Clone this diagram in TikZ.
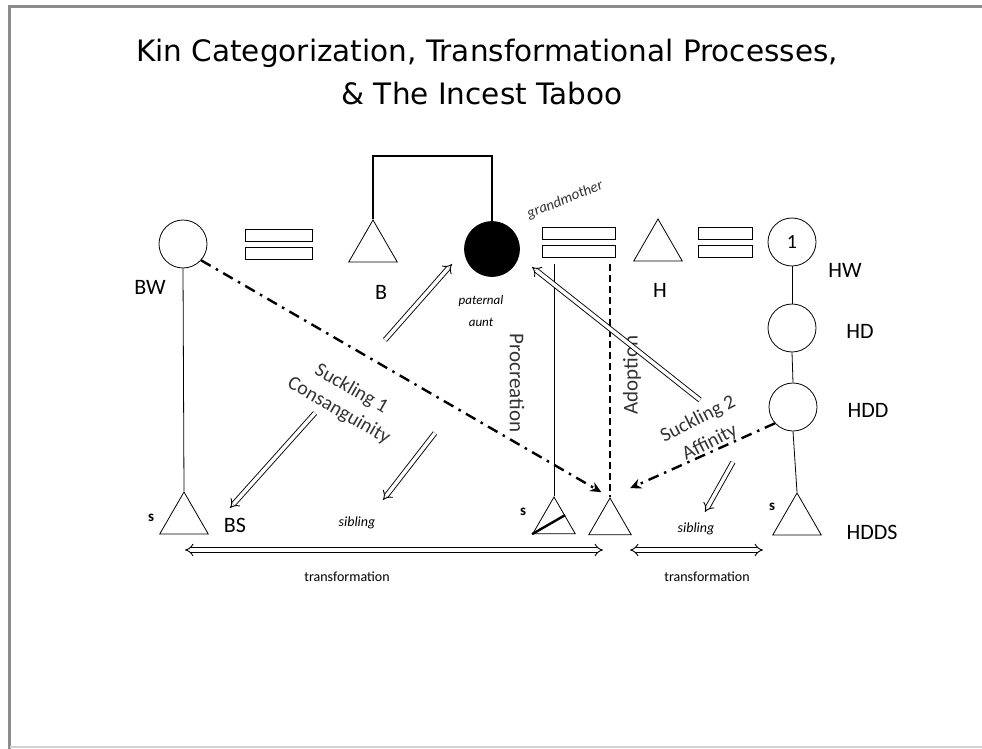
\documentclass[tikz,border=0pt]{standalone}
\usepackage{fontspec}
\setmainfont{Carlito}
\newfontfamily\titlefont{DejaVu Sans}
\usetikzlibrary{arrows.meta,shapes.geometric,calc}

\begin{document}
\begin{tikzpicture}[x=1pt,y=-1pt,
  female/.style={circle,draw,line width=0.8pt,minimum size=48pt,inner sep=0pt},
  male/.style={regular polygon,regular polygon sides=3,draw,line width=0.8pt,
    minimum size=56pt,inner sep=0pt},
  smallmale/.style={male,minimum size=49pt},
  eqbar/.style={draw,line width=0.9pt,minimum height=12pt,inner sep=0pt},
  lab/.style={font=\fontsize{22}{24}\selectfont},
  note/.style={font=\fontsize{13}{22}\selectfont\itshape,align=center},
  tag/.style={font=\fontsize{14}{16}\selectfont},
  proc/.style={font=\fontsize{21}{25}\selectfont,align=center,text=black!80},
  kin/.style={line width=0.8pt},
  hollow/.style={double,double distance=3.5pt,line width=0.9pt,-{Implies[scale=1.4]}},
  twoway/.style={double,double distance=3.5pt,line width=0.9pt,
    {Implies[scale=1.4]}-{Implies[scale=1.4]}},
  dashdot/.style={line width=2.4pt,dash pattern=on 11pt off 6pt on 2.5pt off 6pt,
    -{Stealth[length=11pt,width=10pt]}}]
  \useasboundingbox (0,0) rectangle (982,749);
  % frame
  \draw[line width=3pt,black!45] (9.5,749) -- (9.5,6.5) -- (982,6.5);
  \draw[line width=1.5pt,black!18] (9.5,747) -- (982,747);
  % title
  \node[font=\titlefont\fontsize{29.5}{34}\selectfont,anchor=base] (title1) at (487,62)
    {Kin Categorization, Transformational Processes,};
  \node[font=\titlefont\fontsize{29.5}{34}\selectfont,anchor=base] (title2) at (482,105)
    {\& The Incest Taboo};
  % top row
  \node[female] (bw) at (183,244) {};
  \node[eqbar,minimum width=67pt] (eq1a) at (278.5,235.5) {};
  \node[eqbar,minimum width=67pt] (eq1b) at (278.5,253) {};
  \node[male] (b) at (373,248) {};
  \node[female,fill=black,minimum size=55pt] (gm) at (492,249) {};
  \node[eqbar,minimum width=73pt] (eq2a) at (578.5,233.5) {};
  \node[eqbar,minimum width=73pt] (eq2b) at (578.5,251) {};
  \node[male] (h) at (658,247) {};
  \node[eqbar,minimum width=54pt] (eq3a) at (725,233.5) {};
  \node[eqbar,minimum width=54pt] (eq3b) at (725,251) {};
  \node[female,font=\fontsize{20}{22}\selectfont] (hw) at (792,242) {1};
  % right column
  \node[female] (hd) at (792,328) {};
  \node[female] (hdd) at (793,407) {};
  % bottom row
  \node[male] (sl) at (184,520) {};
  \node[smallmale] (struck) at (554,521.5) {};
  \node[smallmale] (ego) at (610,522.5) {};
  \node[male] (hdds) at (797,521) {};
  % kin labels
  \node[lab] (bwl) at (150,287) {BW};
  \node[lab] (bl) at (381,292) {B};
  \node[lab] (hl) at (660,290) {H};
  \node[lab] (hwl) at (845,270) {HW};
  \node[lab] (hdl) at (860,331) {HD};
  \node[lab] (hddl) at (868,410) {HDD};
  \node[lab] (hddsl) at (872,532) {HDDS};
  \node[lab] (bsl) at (235,525) {BS};
  \node[tag,font=\fontsize{15}{16}\selectfont\bfseries] (s1) at (151,518) {s};
  \node[tag,font=\fontsize{15}{16}\selectfont\bfseries] (s2) at (523,512) {s};
  \node[tag,font=\fontsize{15}{16}\selectfont\bfseries] (s3) at (772,507) {s};
  \node[note,font=\fontsize{15}{16}\selectfont\itshape,text=black!80,rotate=22] (gml) at (565,200) {grandmother};
  \node[note] (pal) at (481,311) {paternal\\aunt};
  \node[note,font=\fontsize{14}{16}\selectfont\itshape] (sib1) at (357,523) {sibling};
  \node[note,font=\fontsize{14}{16}\selectfont\itshape] (sib2) at (696,529) {sibling};
  \node[tag] (tr1) at (347,577) {transformation};
  \node[tag] (tr2) at (707,577) {transformation};
  \node[proc,rotate=-90] (procl) at (517,383) {Procreation};
  \node[proc,rotate=90] (adopl) at (632,375) {Adoption};
  \node[proc,rotate=-30,font=\fontsize{20}{25}\selectfont] (suck1) at (345,400) {Suckling 1\\Consanguinity};
  \node[proc,rotate=27,font=\fontsize{20}{26}\selectfont] (suck2) at (704,431) {Suckling 2\\Affinity};
  % descent and sibling lines
  \draw[line width=2.4pt] (b.corner 1) -- ++(0,-63) -| (gm.north);
  \draw[kin] (bw.south) -- (sl.corner 1);
  \draw[kin] (hw.south) -- (hd.north);
  \draw[kin] (hd.south) -- (hdd.north);
  \draw[kin] (hdd.south) -- (hdds.corner 1);
  \draw[kin,shorten <=7pt] (struck.corner 1 |- eq2b.south) -- (struck.corner 1);
  \draw[line width=1.8pt,dash pattern=on 7pt off 4pt,shorten <=7pt] (ego.corner 1 |- eq2b.south) -- (ego.corner 1);
  \draw[line width=2.4pt] (struck.corner 2) -- ($(struck.corner 1)!0.5!(struck.corner 3)$);
  % suckling links
  \draw[dashdot,shorten >=10pt] (bw.-42) -- (ego.corner 1);
  \draw[dashdot,shorten >=22pt] (hdd.222) -- (ego.corner 1);
  \coordinate (k1) at (385,340);
  \coordinate (k1h) at (452,264);
  \coordinate (k2) at (315,413);
  \coordinate (k2h) at (230,508);
  \coordinate (k3) at (435,433);
  \coordinate (k3h) at (383,500);
  \coordinate (a1) at (700,400);
  \coordinate (a1h) at (532,267);
  \coordinate (a2) at (733,462);
  \coordinate (a2h) at (705,512);
  \draw[hollow] (k1) -- (k1h);
  \draw[hollow] (k2) -- (k2h);
  \draw[hollow] (k3) -- (k3h);
  \draw[hollow] (a1) -- (a1h);
  \draw[hollow] (a2) -- (a2h);
  % transformations
  \coordinate (t1l) at (185,550);
  \coordinate (t1r) at (603,550);
  \coordinate (t2l) at (630,550);
  \coordinate (t2r) at (763,550);
  \draw[twoway] (t1l) -- (t1r);
  \draw[twoway] (t2l) -- (t2r);
\end{tikzpicture}
\end{document}
